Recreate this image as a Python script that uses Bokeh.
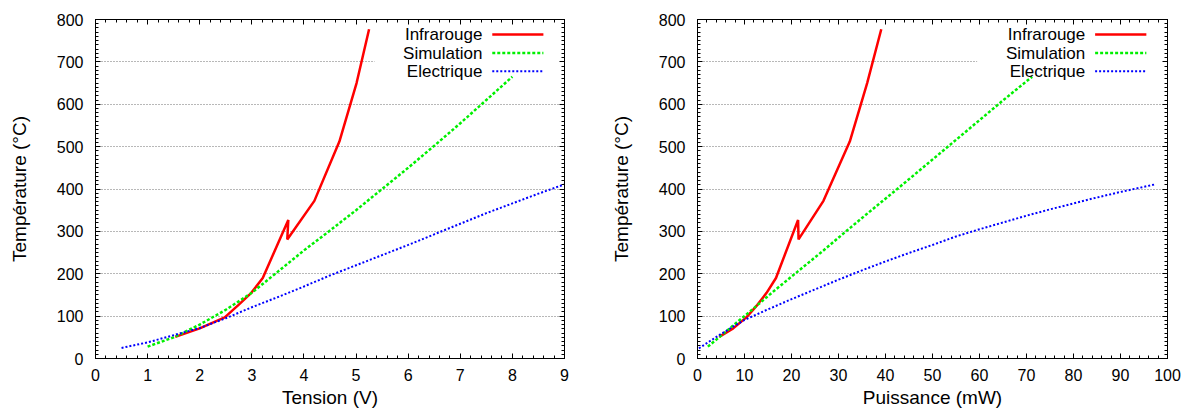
from bokeh.plotting import figure
from bokeh.models import SingleIntervalTicker, LinearAxis, BoxAnnotation, Range1d
from bokeh.layouts import row
from bokeh.embed import file_html
from bokeh.resources import INLINE
from bokeh.core.properties import value

FONT = "Liberation Sans"

# ---- Data: left panel (Tension) ----
ir_V = [1.53, 2.0, 2.48, 2.74, 2.99, 3.21, 3.70, 3.68, 4.20, 4.68, 5.01, 5.25]
ir_T = [51, 71, 97, 126, 155, 190, 327, 281, 372, 512, 650, 777]

sim_V = [1.0, 1.5, 2.0, 2.5, 3.0, 3.5, 4.0, 4.5, 5.0, 5.5, 6.0, 6.5, 7.0, 7.5, 8.0]
sim_T = [28, 50, 80, 115, 155, 205, 255, 302, 350, 400, 450, 502, 555, 610, 665]

el_V = [0.5, 1.0, 1.5, 2.0, 2.5, 3.0, 3.5, 4.0, 4.5, 5.0, 5.5, 6.0, 6.5, 7.0, 7.5, 8.0, 8.5, 9.0]
el_T = [25, 38, 55, 72, 95, 121, 145, 170, 196, 220, 244, 268, 293, 318, 343, 366, 389, 411]

# ---- Data: right panel (Puissance) ----
ir_P = [4.6, 7.6, 10.4, 12.7, 14.7, 16.7, 21.4, 21.5, 26.8, 32.4, 36.1, 39.1]
ir_T2 = [51, 71, 97, 126, 155, 190, 327, 281, 372, 512, 650, 777]

sim_P = [2.2, 4.6, 7.8, 11.6, 15.8, 21.3, 26.8, 31.8, 37.0, 42.5, 47.9, 53.5, 59.2, 65.1, 71.2]
sim_T2 = [28, 50, 80, 115, 155, 205, 255, 302, 350, 400, 450, 502, 555, 610, 665]

el_P = [0.3, 5, 10, 15, 20, 25, 30, 35, 40, 45, 50, 55, 60, 65, 70, 75, 80, 85, 90, 97.4]
el_T2 = [24, 58, 91, 116, 140, 163, 186, 208, 229, 249, 268, 288, 305, 321, 337, 352, 366, 380, 393, 411]

series_names = ["Infrarouge", "Simulation", "Electrique"]
colors = ["#ff0000", "#00f000", "#0000ff"]
dashes = ["solid", "3 2", "2 2"]
widths = [2.5, 2.5, 2.0]

Y_LABEL = "Température (°C)"


def make_panel(xs, ys, xlabel, xmax, xstep, width, mleft, mright):
    p = figure(width=width, height=412, output_backend="svg", toolbar_location=None,
               x_range=Range1d(0, xmax), y_range=Range1d(0, 800),
               min_border_left=mleft, min_border_right=mright,
               min_border_top=19, min_border_bottom=54)
    p.outline_line_color = "black"
    p.outline_line_width = 1
    p.xgrid.visible = False
    p.ygrid.grid_line_color = "#707070"
    p.ygrid.grid_line_dash = "1 2"
    p.ygrid.grid_line_width = 1

    xt = SingleIntervalTicker(interval=xstep, num_minor_ticks=5)
    yt = SingleIntervalTicker(interval=100, num_minor_ticks=10)
    p.xaxis.ticker = xt
    p.yaxis.ticker = yt
    p.ygrid.ticker = yt

    for ax in (p.xaxis[0], p.yaxis[0]):
        ax.major_tick_in = 5
        ax.major_tick_out = 0
        ax.minor_tick_in = 3
        ax.minor_tick_out = 0
        ax.axis_line_color = "black"
        ax.major_label_text_font = FONT
        ax.major_label_text_font_size = "16px"
        ax.major_label_text_color = "black"
        ax.axis_label_text_font = FONT
        ax.axis_label_text_font_size = "19px"
        ax.axis_label_text_font_style = "normal"
        ax.axis_label_text_color = "black"
    p.xaxis.axis_label = xlabel
    p.yaxis.axis_label = Y_LABEL
    p.xaxis.major_label_standoff = 10
    p.xaxis.axis_label_standoff = 3
    p.yaxis.major_label_standoff = 12
    p.yaxis.axis_label_standoff = 24

    # mirrored ticks on top and right (no labels)
    for loc, tk in (("above", xt), ("right", yt)):
        ax = LinearAxis(ticker=tk, major_label_text_font_size="1px",
                        major_label_text_color=None, major_label_standoff=0,
                        major_tick_in=5, major_tick_out=0, minor_tick_in=3, minor_tick_out=0,
                        axis_line_color="black")
        p.add_layout(ax, loc)

    # blank key area over the grid
    dx, dy = xmax, 800
    box = BoxAnnotation(left=0.595 * dx, right=0.996 * dx, top=0.996 * dy, bottom=0.82 * dy,
                        fill_color="white", fill_alpha=1.0, line_color=None, level="underlay")
    p.add_layout(box)

    for (x, y), c, d, w in zip(zip(xs, ys), colors, dashes, widths):
        p.line(x, y, line_color=c, line_dash=d, line_width=w)

    # key
    rows_y = [0.956, 0.901, 0.847]
    for name, c, d, w, fy in zip(series_names, colors, dashes, widths, rows_y):
        p.text(x=[0.825 * dx], y=[fy * dy], text=[name], text_align="right",
               text_baseline="middle", text_font=value(FONT), text_font_size="17px",
               text_color="black")
        p.line([0.846 * dx, 0.955 * dx], [fy * dy, fy * dy], line_color=c, line_dash=d,
               line_width=w)
    return p


left = make_panel([ir_V, sim_V, el_V], [ir_T, sim_T, el_T], "Tension (V)", 9, 1, 605, 95, 41)
right = make_panel([ir_P, sim_P, el_P], [ir_T2, sim_T2, el_T2], "Puissance (mW)", 100, 10, 579, 92, 17)

layout = row(left, right)
open("out.html", "w").write(file_html(layout, INLINE))
